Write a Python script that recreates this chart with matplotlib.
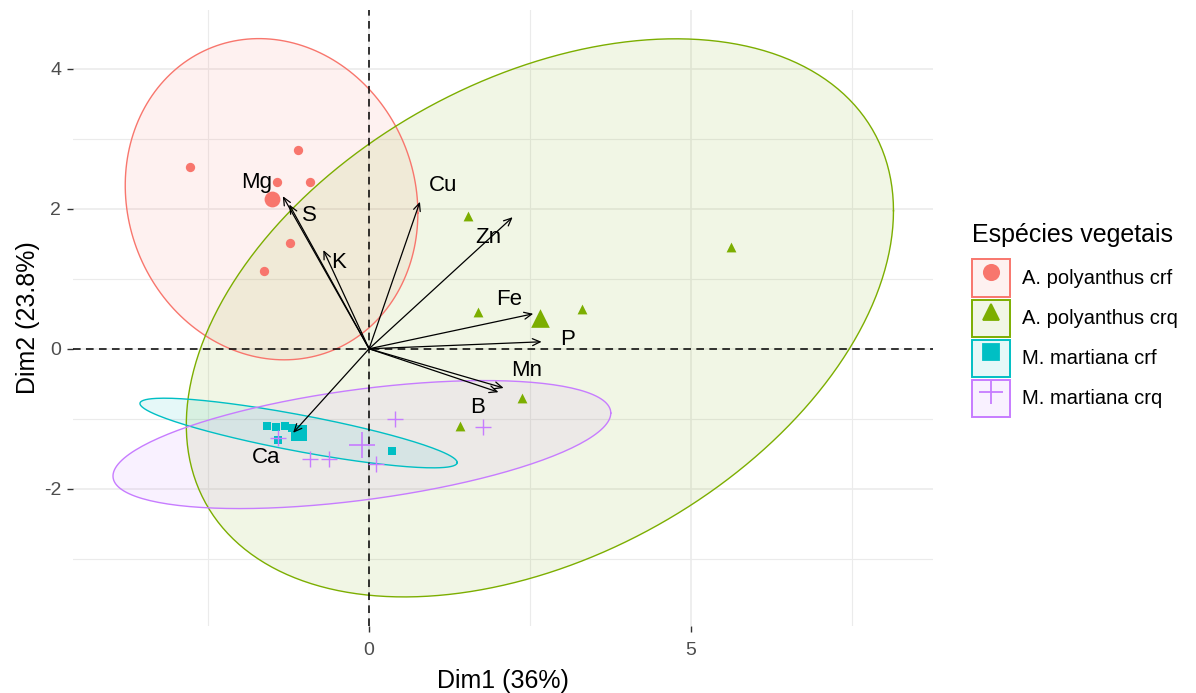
import numpy as np
import matplotlib.pyplot as plt
from matplotlib.patches import Patch
from matplotlib.lines import Line2D
from matplotlib.legend_handler import HandlerTuple

plt.rcParams['font.family'] = ['Liberation Sans', 'DejaVu Sans']
plt.rcParams['axes.unicode_minus'] = False

groups = ['A. polyanthus crf', 'A. polyanthus crq', 'M. martiana crf', 'M. martiana crq']
colors = ['#F8766D', '#7CAE00', '#00BFC4', '#C77CFF']
markers = ['o', '^', 's', '+']

# individuals (Dim1, Dim2) per group
pol_crf_x = [-2.78, -1.11, -1.43, -0.91, -1.23, -1.63]
pol_crf_y = [2.60, 2.84, 2.38, 2.38, 1.51, 1.11]
pol_crq_x = [1.53, 5.62, 1.69, 3.30, 2.37, 1.41]
pol_crq_y = [1.90, 1.46, 0.52, 0.57, -0.70, -1.10]
mar_crf_x = [-1.58, -1.44, -1.30, -1.20, -1.41, 0.36]
mar_crf_y = [-1.10, -1.12, -1.11, -1.13, -1.30, -1.46]
mar_crq_x = [0.40, 1.77, -1.42, -0.91, -0.62, 0.11]
mar_crq_y = [-1.01, -1.12, -1.28, -1.58, -1.58, -1.64]

# variables (arrow tips)
variables = ['Mg', 'S', 'K', 'Cu', 'Zn', 'Fe', 'P', 'Mn', 'B', 'Ca']
var_x = [-1.34, -1.24, -0.71, 0.79, 2.23, 2.55, 2.68, 2.09, 2.01, -1.18]
var_y = [2.18, 2.06, 1.41, 2.10, 1.88, 0.50, 0.10, -0.56, -0.62, -1.20]

# where the labels sit relative to the arrow tip (repelled labels)
label_off = {'Mg': (-0.40, 0.19), 'S': (0.31, -0.15), 'K': (0.23, -0.18),
             'Cu': (0.36, 0.23), 'Zn': (-0.38, -0.29), 'Fe': (-0.38, 0.21),
             'P': (0.41, 0.03), 'Mn': (0.35, 0.25), 'B': (-0.32, -0.22),
             'Ca': (-0.42, -0.36)}

gx = [pol_crf_x, pol_crq_x, mar_crf_x, mar_crq_x]
gy = [pol_crf_y, pol_crq_y, mar_crf_y, mar_crq_y]


def norm_ellipse(x, y, level=0.95, n=200):
    # same as ggplot2 stat_ellipse(type = "norm")
    x = np.asarray(x)
    y = np.asarray(y)
    cov = np.cov(x, y)
    d = len(x) - 1
    fq = d / 2.0 * ((1 - level) ** (-2.0 / d) - 1)
    r = np.sqrt(2 * fq)
    R = np.linalg.cholesky(cov).T
    t = np.linspace(0, 2 * np.pi, n)
    circ = np.column_stack([np.cos(t), np.sin(t)])
    pts = circ @ R * r + np.array([x.mean(), y.mean()])
    return pts[:, 0], pts[:, 1]


fig = plt.figure(figsize=(11.96, 6.93), dpi=100)
ax = fig.add_axes([0.061, 0.0967, 0.7191, 0.8889])
ax.set_xlim(-4.60, 8.76)
ax.set_ylim(-3.96, 4.84)

for s in ax.spines.values():
    s.set_visible(False)
ax.set_xticks([0, 5])
ax.set_yticks([-2, 0, 2, 4])
ax.set_xticks([-2.5, 2.5, 7.5], minor=True)
ax.set_yticks([-3, -1, 1, 3], minor=True)
ax.grid(which='major', color='#EBEBEB', lw=1.2, zorder=0)
ax.grid(which='minor', color='#EBEBEB', lw=0.8, zorder=0)
ax.set_axisbelow(True)
ax.tick_params(which='major', length=4.5, width=1, color='#333333',
               labelcolor='#4D4D4D', labelsize=14, pad=4)
ax.tick_params(axis='x', pad=7)
ax.tick_params(which='minor', length=0)

# ellipses
for i in range(4):
    ex, ey = norm_ellipse(gx[i], gy[i])
    ax.fill(ex, ey, color=colors[i], alpha=0.1, lw=0, zorder=1)
    ax.plot(ex, ey, color=colors[i], lw=1.0, zorder=2)

ax.axhline(0, color='black', ls=(0, (5, 3.5)), lw=1.1, zorder=2)
ax.axvline(0, color='black', ls=(0, (5, 3.5)), lw=1.1, zorder=2)

sizes = [45, 50, 40, 120]
msizes = [130, 180, 120, 330]
for i in range(4):
    ax.scatter(gx[i], gy[i], marker=markers[i], s=sizes[i], color=colors[i],
               lw=1.0 if markers[i] == '+' else 0, zorder=3)
    ax.scatter([np.mean(gx[i])], [np.mean(gy[i])], marker=markers[i], s=msizes[i],
               color=colors[i], lw=1.2 if markers[i] == '+' else 0, zorder=3)

for v, x, y in zip(variables, var_x, var_y):
    ax.annotate('', xy=(x, y), xytext=(0, 0),
                arrowprops=dict(arrowstyle='->,head_length=0.55,head_width=0.25',
                                color='black', lw=0.9, shrinkA=0, shrinkB=0),
                zorder=4)
    dx, dy = label_off[v]
    ax.text(x + dx, y + dy, v, fontsize=16, ha='center', va='center', zorder=5)

ax.set_xlabel('Dim1 (36%)', fontsize=18, labelpad=7)
ax.set_ylabel('Dim2 (23.8%)', fontsize=18, labelpad=3)

# legend: title as its own text, keys below it
fig.text(972 / 1196, 1 - 235 / 693, 'Espécies vegetais', fontsize=18,
         ha='left', va='center')

handles = []
for i in range(4):
    box = Patch(facecolor=colors[i] + '1A', edgecolor=colors[i], lw=1.4)
    mk = Line2D([], [], ls='', marker=markers[i], color=colors[i],
                markersize=11 if markers[i] != '+' else 17, mew=1.3)
    handles.append((box, mk))

fig.legend(handles, groups, loc='upper left', bbox_to_anchor=(972 / 1196, 1 - 259.5 / 693),
           borderpad=0, borderaxespad=0, fontsize=14.5,
           frameon=False, handlelength=1.89, handleheight=2.45,
           labelspacing=0.15, handletextpad=0.6,
           handler_map={tuple: HandlerTuple(ndivide=1)})

fig.savefig('out.png', dpi=100)
